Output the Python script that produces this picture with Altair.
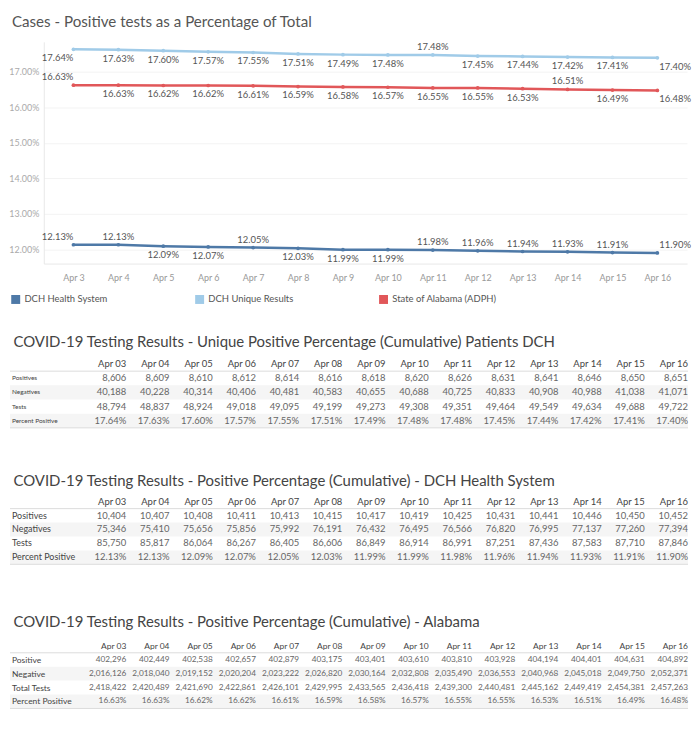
import altair as alt
import pandas as pd

FONT = "Lato"

# ---------------- data ----------------
line_dates = ["Apr 3", "Apr 4", "Apr 5", "Apr 6", "Apr 7", "Apr 8", "Apr 9",
              "Apr 10", "Apr 11", "Apr 12", "Apr 13", "Apr 14", "Apr 15", "Apr 16"]
table_dates = ["Apr 03", "Apr 04", "Apr 05", "Apr 06", "Apr 07", "Apr 08", "Apr 09",
               "Apr 10", "Apr 11", "Apr 12", "Apr 13", "Apr 14", "Apr 15", "Apr 16"]

series_names = ["DCH Health System", "DCH Unique Results", "State of Alabama (ADPH)"]
series_colors = ["#4e79a7", "#a0cbe8", "#e15759"]

dch_pct = [12.13, 12.13, 12.09, 12.07, 12.05, 12.03, 11.99, 11.99, 11.98, 11.96, 11.94, 11.93, 11.91, 11.90]
unique_pct = [17.64, 17.63, 17.60, 17.57, 17.55, 17.51, 17.49, 17.48, 17.48, 17.45, 17.44, 17.42, 17.41, 17.40]
state_pct = [16.63, 16.63, 16.62, 16.62, 16.61, 16.59, 16.58, 16.57, 16.55, 16.55, 16.53, 16.51, 16.49, 16.48]

unique_pos = [8606, 8609, 8610, 8612, 8614, 8616, 8618, 8620, 8626, 8631, 8641, 8646, 8650, 8651]
unique_neg = [40188, 40228, 40314, 40406, 40481, 40583, 40655, 40688, 40725, 40833, 40908, 40988, 41038, 41071]
unique_tests = [48794, 48837, 48924, 49018, 49095, 49199, 49273, 49308, 49351, 49464, 49549, 49634, 49688, 49722]

dch_pos = [10404, 10407, 10408, 10411, 10413, 10415, 10417, 10419, 10425, 10431, 10441, 10446, 10450, 10452]
dch_neg = [75346, 75410, 75656, 75856, 75992, 76191, 76432, 76495, 76566, 76820, 76995, 77137, 77260, 77394]
dch_tests = [85750, 85817, 86064, 86267, 86405, 86606, 86849, 86914, 86991, 87251, 87436, 87583, 87710, 87846]

al_pos = [402296, 402449, 402538, 402657, 402879, 403175, 403401, 403610, 403810, 403928, 404194, 404401, 404631, 404892]
al_neg = [2016126, 2018040, 2019152, 2020204, 2023222, 2026820, 2030164, 2032808, 2035490, 2036553,
          2040968, 2045018, 2049750, 2052371]
al_tests = [2418422, 2420489, 2421690, 2422861, 2426101, 2429995, 2433565, 2436418, 2439300, 2440481,
            2445162, 2449419, 2454381, 2457263]

# label placement on the line chart (style)
label_above = {
    "DCH Health System": ["Apr 3", "Apr 4", "Apr 7", "Apr 11", "Apr 12", "Apr 13", "Apr 14", "Apr 15", "Apr 16"],
    "DCH Unique Results": ["Apr 11"],
    "State of Alabama (ADPH)": ["Apr 3", "Apr 14"],
}

# ---------------- line chart ----------------
recs = []
for name, vals in zip(series_names, [dch_pct, unique_pct, state_pct]):
    for i, (d, v) in enumerate(zip(line_dates, vals)):
        pos = "above" if d in label_above[name] else "below"
        h = "right" if i == 0 else ("left" if i == len(line_dates) - 1 else "center")
        recs.append({"date": d, "series": name, "pct": v, "pos": pos, "h": h})
df_line = pd.DataFrame(recs)

LINE_W = 647
LINE_H = 223
AXIS_EXT = 36

x_line = alt.X("date:O", sort=line_dates, title=None,
               scale=alt.Scale(type="point", padding=0.66),
               axis=alt.Axis(labelAngle=0, labelColor="#999", labelFont=FONT, labelFontSize=9,
                             ticks=False, domainColor="#e8e8e8", labelPadding=10, grid=False))
y_line = alt.Y("pct:Q", title=None,
               scale=alt.Scale(domain=[11.6, 17.85], nice=False, zero=False),
               axis=alt.Axis(values=[12, 13, 14, 15, 16, 17],
                             labelExpr="format(datum.value, '.2f') + '%'",
                             labelColor="#aaa", labelFont=FONT, labelFontSize=9,
                             ticks=False, domainColor="#e8e8e8", gridColor="#f3f3f3",
                             labelPadding=5, minExtent=AXIS_EXT, maxExtent=AXIS_EXT))
col_scale = alt.Scale(domain=series_names, range=series_colors)
legend = alt.Legend(title=None, orient="none", legendX=-33, legendY=254,
                    direction="horizontal", columns=3, gridAlign="all",
                    columnPadding=66, symbolType="square", symbolSize=81,
                    symbolStrokeWidth=0, symbolOpacity=1,
                    labelFont=FONT, labelFontSize=9.5, labelColor="#555",
                    labelOffset=4)

legend_layer = alt.Chart(df_line).mark_square(filled=True, size=0, opacity=1).encode(
    x=x_line, y=y_line,
    color=alt.Color("series:N", scale=col_scale, legend=legend),
)
lines = alt.Chart(df_line).mark_line(strokeWidth=2.5).encode(
    x=x_line, y=y_line,
    color=alt.Color("series:N", scale=col_scale, legend=None),
)
points = alt.Chart(df_line).mark_point(filled=True, size=14, opacity=1).encode(
    x=x_line, y=y_line,
    color=alt.Color("series:N", scale=col_scale, legend=None),
)

label_layers = []
for pos, dy in [("above", -8), ("below", 9)]:
    for h, dx in [("left", 2), ("center", 0), ("right", 0)]:
        label_layers.append(
            alt.Chart(df_line)
            .transform_filter(f"datum.pos == '{pos}' && datum.h == '{h}'")
            .transform_calculate(label="format(datum.pct, '.2f') + '%'")
            .mark_text(align=h, baseline="middle", dx=dx, dy=dy, font=FONT, fontSize=9.5, color="#555")
            .encode(x=x_line, y=y_line, text="label:N")
        )

line_chart = alt.layer(legend_layer, lines, points, *label_layers).resolve_legend(
    color="independent"
).properties(
    width=LINE_W, height=LINE_H,
    title=alt.TitleParams("Cases - Positive tests as a Percentage of Total", anchor="start",
                          font=FONT, fontSize=15.2, fontWeight="normal", color="#555",
                          offset=12, dx=4),
)

# ---------------- tables ----------------
TABLE_W = 648


def make_table(title, row_labels, counts, pcts, pitch, title_offset,
               header_size, value_size, label_size):
    recs = []
    series = counts + [pcts]
    for r, (lab, vals) in enumerate(zip(row_labels, series), start=1):
        kind = "pct" if r == len(series) else "count"
        for d, v in zip(table_dates, vals):
            recs.append({"date": d, "row": r, "value": v, "kind": kind})
    df_vals = pd.DataFrame(recs)
    df_head = pd.DataFrame({"date": table_dates, "row": [0] * len(table_dates)})
    df_labels = pd.DataFrame({"label": row_labels, "row": list(range(1, len(row_labels) + 1))})
    df_band = pd.DataFrame({"row": [2, 4]})
    df_rule = pd.DataFrame({"row": [0.5, 4.5]})

    xs = alt.X("date:O", sort=table_dates,
               scale=alt.Scale(type="point", range=[83, 648], padding=0), axis=None)
    yscale = alt.Scale(domain=[-0.5, 4.5], reverse=True, nice=False, zero=False)
    ys = alt.Y("row:Q", scale=yscale,
               axis=alt.Axis(labels=False, ticks=False, domain=False, grid=False, title=None,
                             minExtent=AXIS_EXT, maxExtent=AXIS_EXT))

    band = alt.Chart(df_band).transform_calculate(
        y0="datum.row - 0.5", y1="datum.row + 0.5"
    ).mark_rect(color="#f5f5f5").encode(
        x=alt.value(-34), x2=alt.value(TABLE_W),
        y=alt.Y("y0:Q", scale=yscale, axis=None), y2="y1:Q")
    rules = alt.Chart(df_rule).mark_rule(color="#dcdcdc", strokeWidth=1).encode(
        x=alt.value(-34), x2=alt.value(TABLE_W), y=alt.Y("row:Q", scale=yscale, axis=None))
    head = alt.Chart(df_head).mark_text(align="right", baseline="middle", font=FONT,
                                        fontSize=header_size, color="#444").encode(
        x=xs, y=ys, text="date:N")
    labels = alt.Chart(df_labels).mark_text(align="left", baseline="middle", font=FONT,
                                            fontSize=label_size, color="#444").encode(
        x=alt.value(-32), y=alt.Y("row:Q", scale=yscale, axis=None), text="label:N")
    vals = alt.Chart(df_vals).transform_calculate(
        txt="datum.kind == 'pct' ? format(datum.value, '.2f') + '%' : format(datum.value, ',')"
    ).mark_text(align="right", baseline="middle", font=FONT, fontSize=value_size,
                color="#666").encode(x=xs, y=alt.Y("row:Q", scale=yscale, axis=None),
                                     text="txt:N")
    return alt.layer(band, rules, head, labels, vals).properties(
        width=TABLE_W, height=5 * pitch,
        title=alt.TitleParams(title, anchor="start", font=FONT, fontSize=15,
                              fontWeight="normal", color="#444", offset=title_offset, dx=4),
    )


t1 = make_table("COVID-19 Testing Results - Unique Positive Percentage (Cumulative) Patients DCH",
                ["Positives", "Negatives", "Tests", "Percent Positive"],
                [unique_pos, unique_neg, unique_tests], unique_pct,
                pitch=14.25, title_offset=7.5, header_size=9.5, value_size=9.5, label_size=6.5)
t2 = make_table("COVID-19 Testing Results - Positive Percentage (Cumulative) - DCH Health System",
                ["Positives", "Negatives", "Tests", "Percent Positive"],
                [dch_pos, dch_neg, dch_tests], dch_pct,
                pitch=14, title_offset=6, header_size=9.5, value_size=9.5, label_size=9)
t3 = make_table("COVID-19 Testing Results - Positive Percentage (Cumulative) - Alabama",
                ["Positive", "Negative", "Total Tests", "Percent Positive"],
                [al_pos, al_neg, al_tests], state_pct,
                pitch=14, title_offset=9, header_size=8.5, value_size=8.3, label_size=8.5)

top = alt.vconcat(line_chart, t1, spacing=30)
bottom = alt.vconcat(t2, t3, spacing=50)
chart = alt.vconcat(top, bottom, spacing=45.5).properties(
    padding={"left": 0, "top": 4, "right": 0, "bottom": 0},
    background="white",
).configure_view(stroke=None)

chart.save("out.html", embed_options={"renderer": "svg", "actions": False})
